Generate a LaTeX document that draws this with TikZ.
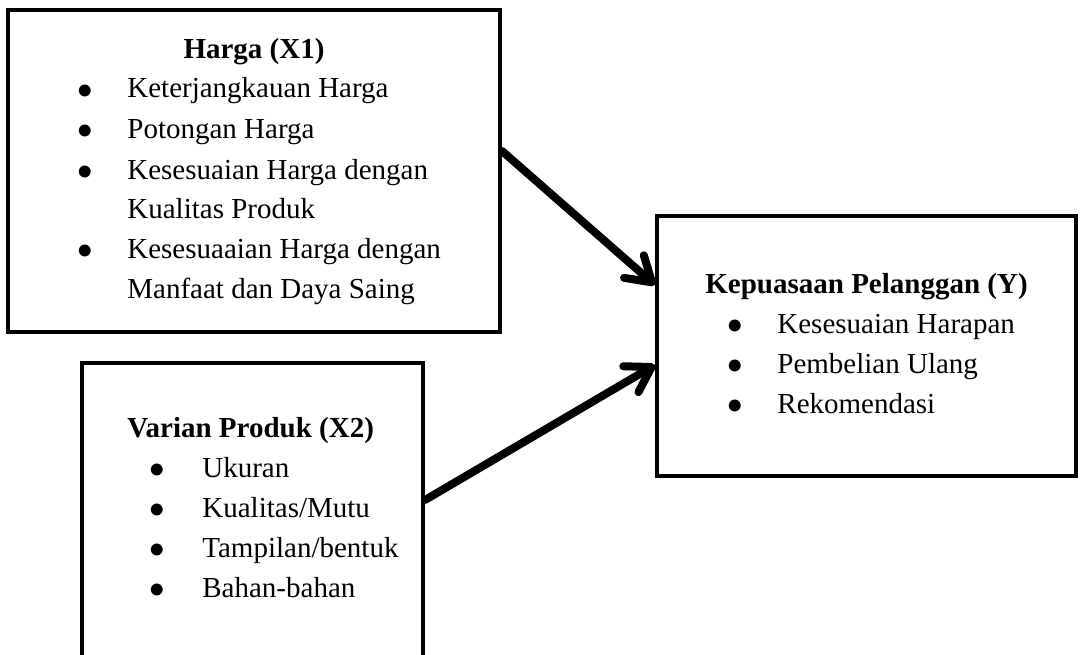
\documentclass[tikz,border=0pt]{standalone}
\usepackage{fontspec}
\setmainfont{Liberation Serif}
\usetikzlibrary{arrows.meta,fit,calc}
\newcommand{\bigbul}{\scalebox{1.72}{•}}
\begin{document}
\begin{tikzpicture}[x=0.5pt,y=-0.5pt,
  box/.style={draw=black,line width=2pt,inner sep=0pt,fill=none},
  txt/.style={inner sep=0pt,anchor=base west,font=\fontsize{14.5}{20}\selectfont},
  ttl/.style={inner sep=0pt,font=\fontsize{14.5}{20}\selectfont\bfseries},
  bul/.style={inner sep=0pt,anchor=base,yshift=-4.6pt,font=\fontsize{14.5}{20}\selectfont},
  conn/.style={line width=4pt,line cap=round,
    -{Straight Barb[length=12pt,width=15pt,line cap=round,line join=round]}}]
\useasboundingbox (0,0) rectangle (1081,654);
% boxes
\node[box,fit={(8,10) (500,332)}] (x1) {};
\node[box,fit={(82,363) (423,680)}] (x2) {};
\node[box,fit={(657,216) (1076,476)}] (y) {};
% box 1 text
\node[ttl,anchor=base] (t1) at (254,58) {Harga (X1)};
\node[bul] (b11) at (85,98) {\bigbul};
\node[txt] (i11) at (127,97) {Keterjangkauan Harga};
\node[bul] (b12) at (85,138) {\bigbul};
\node[txt] (i12) at (127,138) {Potongan Harga};
\node[bul] (b13) at (85,179) {\bigbul};
\node[txt] (i13) at (127,179) {Kesesuaian Harga dengan};
\node[txt] (i14) at (127,218) {Kualitas Produk};
\node[bul] (b15) at (85,258) {\bigbul};
\node[txt] (i15) at (127,258) {Kesesuaaian Harga dengan};
\node[txt] (i16) at (127,298) {Manfaat dan Daya Saing};
% box 2 text
\node[ttl,anchor=base west] (t2) at (127,437) {Varian Produk (X2)};
\node[bul] (b21) at (157,477) {\bigbul};
\node[txt] (i21) at (202,477) {Ukuran};
\node[bul] (b22) at (157,517) {\bigbul};
\node[txt] (i22) at (202,517) {Kualitas/Mutu};
\node[bul] (b23) at (157,557) {\bigbul};
\node[txt] (i23) at (202,557) {Tampilan/bentuk};
\node[bul] (b24) at (157,597) {\bigbul};
\node[txt] (i24) at (202,597) {Bahan-bahan};
% box 3 text
\node[ttl,anchor=base west] (t3) at (705,293) {Kepuasaan Pelanggan (Y)};
\node[bul] (b31) at (735,333) {\bigbul};
\node[txt] (i31) at (777,333) {Kesesuaian Harapan};
\node[bul] (b32) at (735,373) {\bigbul};
\node[txt] (i32) at (777,373) {Pembelian Ulang};
\node[bul] (b33) at (735,413) {\bigbul};
\node[txt] (i33) at (777,413) {Rekomendasi};
% connectors
\draw[conn] ($(x1.north east)+(0,143)$) -- ($(y.north west)+(0,71)$);
\draw[conn] ($(x2.north east)+(0,139)$) -- ($(y.north west)+(0,151)$);
\end{tikzpicture}
\end{document}
